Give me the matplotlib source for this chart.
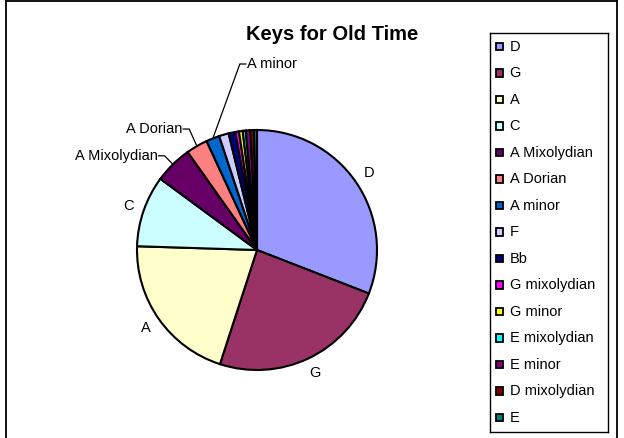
import numpy as np
import matplotlib
matplotlib.use("Agg")
import matplotlib.pyplot as plt
from matplotlib.patches import Rectangle
from matplotlib.lines import Line2D

# =============================================
# data (share of tunes per key)

keys = ["D", "G", "A", "C", "A Mixolydian", "A Dorian", "A minor", "F", "Bb",
        "G mixolydian", "G minor", "E mixolydian", "E minor", "D mixolydian", "E"]
share = [30.9, 24.1, 20.5, 9.6, 5.1, 2.9, 1.8, 1.3, 0.9,
         0.5, 0.5, 0.4, 0.6, 0.5, 0.4]
colors = ["#9999FF", "#993366", "#FFFFCC", "#CCFFFF", "#660066", "#FF8080",
          "#0066CC", "#CCCCFF", "#000080", "#FF00FF", "#FFFF00", "#00FFFF",
          "#800080", "#800000", "#008080"]

# labels drawn next to the pie: plain ones sit just outside the rim,
# the narrow slices get a text spot plus a leader line
plain_labels = ["D", "G", "A", "C"]
leader_labels = {
    "A Mixolydian": ((-0.83, 0.785), "right"),
    "A Dorian": ((-0.625, 1.008), "right"),
    "A minor": ((-0.083, 1.55), "left"),
}

# =============================================

W, H = 624, 438
plt.rcParams["font.family"] = ["Liberation Sans", "DejaVu Sans"]
fig = plt.figure(figsize=(W / 100, H / 100), dpi=100)
fig.patch.set_facecolor("white")

# outer chart border (bottom edge is outside the picture)
for xs, ys in [([6, 6], [1, H + 5]), ([6, 617], [1, 1]), ([617, 617], [1, H + 5])]:
    fig.add_artist(Line2D([x / W for x in xs], [1 - y / H for y in ys],
                          color="black", lw=1.3, transform=fig.transFigure))

fig.text(332 / W, 1 - 35 / H, "Keys for Old Time", ha="center", va="center",
         fontsize=14.5, fontweight="bold")

# =============================================
# pie

cx, cy, R, pad = 257, 250, 120, 1.05
ax = fig.add_axes([(cx - R * pad) / W, (H - cy - R * pad) / H,
                   2 * R * pad / W, 2 * R * pad / H])
wedges, _ = ax.pie(share, colors=colors, startangle=90, counterclock=False,
                   wedgeprops=dict(edgecolor="black", linewidth=1.5))
ax.set_xlim(-pad, pad)
ax.set_ylim(-pad, pad)

def mid_angle(w):
    return np.deg2rad((w.theta1 + w.theta2) / 2)

for name in plain_labels:
    a = mid_angle(wedges[keys.index(name)])
    ax.text(1.13 * np.cos(a), 1.13 * np.sin(a), name, ha="center",
            va="center", fontsize=10.5)

for name, ((tx, ty), side) in leader_labels.items():
    a = mid_angle(wedges[keys.index(name)])
    ex, ey = np.cos(a), np.sin(a)
    ax.text(tx, ty, name, ha=side, va="center", fontsize=10.5)
    s = 1 if side == "right" else -1
    ax.plot([tx + s * 0.01, tx + s * 0.06, ex], [ty, ty, ey],
            color="black", lw=0.9, clip_on=False)

# =============================================
# legend box on the right, in pixel units

lx0, ly0, lx1, ly1 = 490, 33, 608, 432
lg = fig.add_axes([lx0 / W, 1 - ly1 / H, (lx1 - lx0) / W, (ly1 - ly0) / H])
lg.set_xlim(0, lx1 - lx0)
lg.set_ylim(ly1 - ly0, 0)
lg.set_xticks([])
lg.set_yticks([])
for sp in lg.spines.values():
    sp.set_linewidth(1.0)
    sp.set_color("black")

step = 26.5
for i, (name, c) in enumerate(zip(keys, colors)):
    y = 13.7 + i * step
    lg.add_patch(Rectangle((5.5, y - 3.8), 7.5, 7.5, facecolor=c,
                           edgecolor="black", lw=1.3))
    lg.text(19.5, y, name, va="center", ha="left", fontsize=10.5)

fig.savefig("out.png", dpi=100)
